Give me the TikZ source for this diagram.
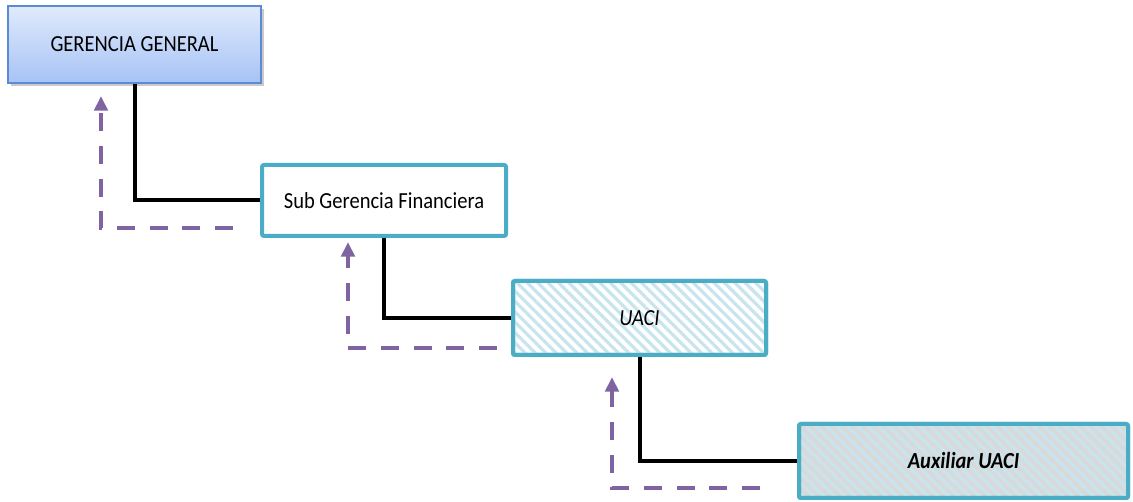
\documentclass[tikz,border=0pt]{standalone}
\usepackage{fontspec}
\setmainfont{Carlito}
\usetikzlibrary{arrows.meta,patterns.meta,shadows}
\definecolor{ggborder}{HTML}{5D8AD4}
\definecolor{ggtop}{HTML}{E0EAFC}
\definecolor{ggbottom}{HTML}{A6C3F5}
\definecolor{teal}{HTML}{4BACC6}
\definecolor{stripe}{HTML}{C8E4EF}
\definecolor{auxgray}{HTML}{D9D9D9}
\definecolor{purpleline}{HTML}{8064A2}
% box captions: slightly tall lettering
\newcommand{\boxcaption}[1]{\scalebox{1}[1.12]{#1}}
\tikzset{
  x=0.75pt, y=-0.75pt,
  label font/.style={font=\fontsize{15.4}{18}\selectfont},
  topbox/.style={draw=ggborder, line width=1.2pt, top color=ggtop, bottom color=ggbottom,
    minimum width=253*0.75pt, minimum height=77*0.75pt, inner sep=0pt, label font,
    drop shadow={shadow xshift=2pt, shadow yshift=-2.5pt, opacity=0.35, fill=black!60}},
  unitbox/.style={draw=teal, line width=3pt, rounded corners=1.5pt, inner sep=0pt, label font},
  striped/.style={postaction={pattern={Lines[angle=-45,distance=5.5pt,line width=2.4pt]}, pattern color=stripe}},
  link/.style={line width=3pt, black},
  report/.style={line width=3pt, purpleline, dash pattern=on 13.5pt off 11pt,
    -{Triangle[width=10pt,length=11pt]}},
}
\begin{document}
\begin{tikzpicture}
\useasboundingbox (0,0) rectangle (1133,502);

% organisational units
\node[topbox] (gg) at (134.5,44.5) {\boxcaption{GERENCIA GENERAL}};
\node[unitbox, fill=white, minimum width=244*0.75pt, minimum height=71*0.75pt] (sub) at (384,200.5) {\boxcaption{Sub Gerencia Financiera}};
\node[unitbox, fill=white, striped, minimum width=253*0.75pt, minimum height=74*0.75pt] (uaci) at (639.5,318) {\boxcaption{\itshape UACI}};
\node[unitbox, fill=auxgray, striped, minimum width=329*0.75pt, minimum height=74*0.75pt] (aux) at (963.5,461) {\boxcaption{\bfseries\itshape Auxiliar UACI}};
% redraw borders above the stripes
\node[unitbox, minimum width=253*0.75pt, minimum height=74*0.75pt] at (uaci) {};
\node[unitbox, minimum width=329*0.75pt, minimum height=74*0.75pt] at (aux) {};

% hierarchy links
\draw[link] (gg.south) |- (sub.west);
\draw[link] (sub.south) |- (uaci.west);
\draw[link] (uaci.south) |- (aux.west);

% reporting paths
\coordinate (r1s) at (233,228);
\coordinate (r1e) at (101,96);
\coordinate (r2s) at (497,348);
\coordinate (r2e) at (348,242);
\coordinate (r3s) at (760,488);
\coordinate (r3e) at (612,377);
\draw[report] (r1s) -| (r1e);
\draw[report] (r2s) -| (r2e);
\draw[report] (r3s) -| (r3e);
\end{tikzpicture}
\end{document}
